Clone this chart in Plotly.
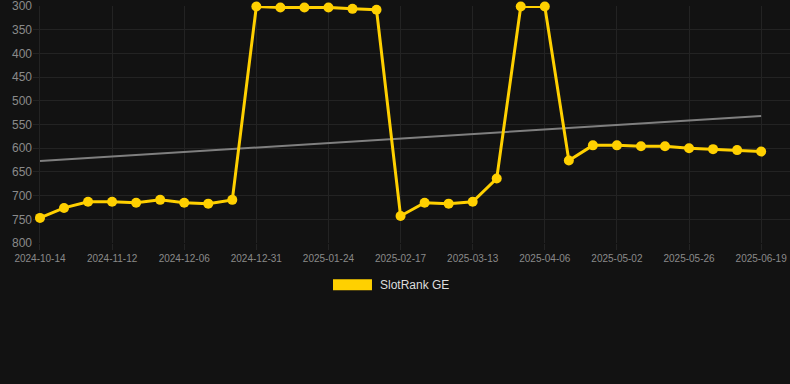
import plotly.graph_objects as go

dates = [
    "2024-10-14", "2024-10-24", "2024-11-03", "2024-11-12", "2024-11-20", "2024-11-28",
    "2024-12-06", "2024-12-14", "2024-12-22", "2024-12-31", "2025-01-08", "2025-01-16",
    "2025-01-24", "2025-02-01", "2025-02-09", "2025-02-17", "2025-02-25", "2025-03-05",
    "2025-03-13", "2025-03-21", "2025-03-29", "2025-04-06", "2025-04-14", "2025-04-23",
    "2025-05-02", "2025-05-10", "2025-05-18", "2025-05-26", "2025-06-03", "2025-06-11",
    "2025-06-19",
]
rank_values = [
    747, 726, 713, 713, 715, 709, 715, 717, 709, 301, 303, 303,
    303, 306, 308, 743, 715, 717, 713, 664, 301, 301, 626, 594,
    594, 596, 596, 600, 602, 604, 607,
]
trend_dates = [dates[0], dates[-1]]
trend_values = [627, 532]
tick_labels = dates[::3]
y_ticks = [300, 350, 400, 450, 500, 550, 600, 650, 700, 750, 800]
series_name = "SlotRank GE"

BG = "#121212"
YELLOW = "#FFD000"
GRID = "#232323"

fig = go.Figure()
fig.add_trace(go.Scatter(
    x=trend_dates, y=trend_values, mode="lines",
    line=dict(color="#7f7f7f", width=2), hoverinfo="skip", showlegend=False,
    cliponaxis=False,
))
fig.add_trace(go.Scatter(
    x=dates, y=rank_values, mode="lines+markers", name=series_name,
    line=dict(color=YELLOW, width=3),
    marker=dict(color=YELLOW, size=10),
    showlegend=False, cliponaxis=False,
))

fig.update_layout(
    width=790, height=384,
    paper_bgcolor=BG, plot_bgcolor=BG,
    margin=dict(l=33, r=0, t=6, b=141),
    font=dict(family="Liberation Sans, Arial, sans-serif", color="#8a8a8a"),
    xaxis=dict(
        type="category", categoryorder="array", categoryarray=dates,
        range=[-0.29, 31.2],
        tickmode="array", tickvals=tick_labels, ticktext=tick_labels,
        tickfont=dict(size=10, color="#8a8a8a"),
        showgrid=True, gridcolor=GRID, gridwidth=1,
        zeroline=False, showline=False,
        ticks="outside", ticklen=6, tickcolor=GRID,
        ticklabeloverflow="allow",
    ),
    yaxis=dict(
        range=[800, 300],
        tickmode="array", tickvals=y_ticks,
        tickfont=dict(size=12, color="#8a8a8a"),
        showgrid=True, gridcolor=GRID, gridwidth=1,
        zeroline=False, showline=False, ticks="",
        ticklabeloverflow="allow",
    ),
    shapes=[dict(
        type="rect", xref="paper", yref="paper",
        x0=0.3963, x1=0.4478, y0=-0.1994, y1=-0.1525,
        fillcolor=YELLOW, line=dict(width=0),
    )],
    annotations=[dict(
        xref="paper", yref="paper", x=0.4557, y=-0.1759,
        xanchor="left", yanchor="middle", showarrow=False,
        text=series_name, font=dict(size=12, color="#dddddd"),
    )],
)

fig.write_html(
    "out.html",
    config={"displayModeBar": False},
    post_script="document.body.style.margin='0';document.body.style.background='#121212';",
)
